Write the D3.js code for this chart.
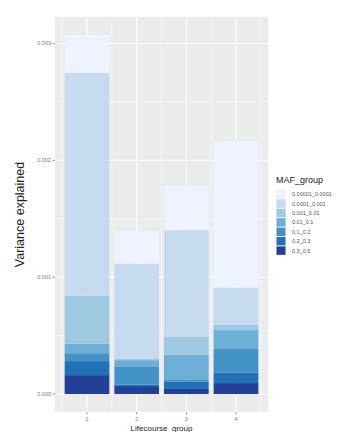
<!DOCTYPE html>
<html>
<head>
<meta charset="utf-8">
<script src="https://cdn.jsdelivr.net/npm/d3@7/dist/d3.min.js"></script>
<style>
  html, body { margin: 0; padding: 0; background: #fff; }
  svg { display: block; font-family: "Liberation Sans", Arial, sans-serif; }
</style>
</head>
<body>
<svg id="chart" width="337" height="432"></svg>
<script>
// ---- data ----
const groups = [1, 2, 3, 4];
// MAF groups, first = top of stack / top of legend (lightest)
const mafGroups = ["0.00001_0.0001", "0.0001_0.001", "0.001_0.01", "0.01_0.1", "0.1_0.2", "0.2_0.3", "0.3_0.5"];
const mafColors = ["#eff3ff", "#c6dbef", "#9ecae1", "#6baed6", "#4292c6", "#2171b5", "#21409a"];
// values per MAF group, for lifecourse groups 1..4
const v_g1 = [0.000325, 0.000276, 0.000379, 0.001254];
const v_g2 = [0.001906, 0.000815, 0.000912, 0.000319];
const v_g3 = [0.000410, 0.000010, 0.000156, 0.000045];
const v_g4 = [0.000083, 0.000053, 0.000214, 0.000162];
const v_g5 = [0.000067, 0.000156, 0.000013, 0.000200];
const v_g6 = [0.000120, 0.000013, 0.000064, 0.000091];
const v_g7 = [0.000162, 0.000068, 0.000044, 0.000094];
const seriesValues = [v_g1, v_g2, v_g3, v_g4, v_g5, v_g6, v_g7];
const yTicks = [0, 0.001, 0.002, 0.003];
const yTickLabels = ["0.000", "0.001", "0.002", "0.003"];
const yTitle = "Variance explained";
const xTitle = "Lifecourse_group";
const legendTitle = "MAF_group";

// ---- layout ----
const svg = d3.select("#chart");
const panel = { left: 55, right: 268, top: 17, bottom: 412 };

const rows = groups.map((g, i) => {
  const r = { group: g };
  mafGroups.forEach((m, j) => r[m] = seriesValues[j][i]);
  return r;
});
// stack bottom-up: darkest first
const stackKeys = mafGroups.slice().reverse();
const stacked = d3.stack().keys(stackKeys)(rows);
const maxTotal = d3.max(rows, r => d3.sum(mafGroups, m => r[m]));

const barW = 0.9;
const xLo = 1 - barW / 2, xHi = 4 + barW / 2;
const xPad = (xHi - xLo) * 0.05;
const x = d3.scaleLinear().domain([xLo - xPad, xHi + xPad]).range([panel.left, panel.right]);
const yPad = maxTotal * 0.05;
const y = d3.scaleLinear().domain([-yPad, maxTotal + yPad]).range([panel.bottom, panel.top]);

// panel background
svg.append("rect")
  .attr("x", panel.left).attr("y", panel.top)
  .attr("width", panel.right - panel.left).attr("height", panel.bottom - panel.top)
  .attr("fill", "#ebebeb");

// grid
const grid = svg.append("g");
const yMinor = [0.0005, 0.0015, 0.0025];
const xMinor = [0.5, 1.5, 2.5, 3.5, 4.5];
yMinor.forEach(v => grid.append("line")
  .attr("x1", panel.left).attr("x2", panel.right)
  .attr("y1", y(v)).attr("y2", y(v))
  .attr("stroke", "#fff").attr("stroke-width", 0.5));
xMinor.forEach(v => grid.append("line")
  .attr("y1", panel.top).attr("y2", panel.bottom)
  .attr("x1", x(v)).attr("x2", x(v))
  .attr("stroke", "#fff").attr("stroke-width", 0.5));
yTicks.forEach(v => grid.append("line")
  .attr("x1", panel.left).attr("x2", panel.right)
  .attr("y1", y(v)).attr("y2", y(v))
  .attr("stroke", "#fff").attr("stroke-width", 1));
groups.forEach(v => grid.append("line")
  .attr("y1", panel.top).attr("y2", panel.bottom)
  .attr("x1", x(v)).attr("x2", x(v))
  .attr("stroke", "#fff").attr("stroke-width", 1));

// bars
const colorOf = d3.scaleOrdinal().domain(mafGroups).range(mafColors);
const bw = x(1 + barW) - x(1);
svg.append("g").selectAll("g").data(stacked).join("g")
  .attr("fill", d => colorOf(d.key))
  .selectAll("rect").data(d => d).join("rect")
  .attr("x", d => x(d.data.group) - bw / 2)
  .attr("width", bw)
  .attr("y", d => y(d[1]))
  .attr("height", d => y(d[0]) - y(d[1]));

// y axis
const yAxis = svg.append("g");
yTicks.forEach((v, i) => {
  yAxis.append("line").attr("x1", panel.left - 2.5).attr("x2", panel.left)
    .attr("y1", y(v)).attr("y2", y(v)).attr("stroke", "#555").attr("stroke-width", 0.6);
  yAxis.append("text").attr("x", panel.left - 4).attr("y", y(v)).attr("dy", "0.35em")
    .attr("text-anchor", "end").attr("font-size", 5.5).attr("fill", "#777")
    .text(yTickLabels[i]);
});
// x axis
const xAxis = svg.append("g");
groups.forEach(g => {
  xAxis.append("line").attr("x1", x(g)).attr("x2", x(g))
    .attr("y1", panel.bottom).attr("y2", panel.bottom + 2.5)
    .attr("stroke", "#555").attr("stroke-width", 0.6);
  xAxis.append("text").attr("x", x(g)).attr("y", panel.bottom + 9)
    .attr("text-anchor", "middle").attr("font-size", 5.5).attr("fill", "#777")
    .text(g);
});

// titles
svg.append("text")
  .attr("transform", `translate(24,${(panel.top + panel.bottom) / 2}) rotate(-90)`)
  .attr("text-anchor", "middle").attr("font-size", 12.5).attr("fill", "#222")
  .text(yTitle);
svg.append("text")
  .attr("x", (panel.left + panel.right) / 2).attr("y", 431)
  .attr("text-anchor", "middle").attr("font-size", 8).attr("fill", "#222")
  .text(xTitle);

// legend
const lg = svg.append("g").attr("transform", "translate(276,0)");
lg.append("text").attr("x", 0).attr("y", 183).attr("font-size", 9).attr("fill", "#222").text(legendTitle);
const keyH = 9.4, keyW = 10, key0 = 189.5;
mafGroups.forEach((m, i) => {
  lg.append("rect").attr("x", 0).attr("y", key0 + i * keyH)
    .attr("width", keyW).attr("height", keyH).attr("fill", "#f2f2f2");
  lg.append("rect").attr("x", 0.5).attr("y", key0 + i * keyH + 0.5)
    .attr("width", keyW - 1).attr("height", keyH - 1).attr("fill", colorOf(m));
  lg.append("text").attr("x", keyW + 6).attr("y", key0 + i * keyH + keyH / 2).attr("dy", "0.35em")
    .attr("font-size", 5.5).attr("fill", "#555").text(m);
});
</script>
</body>
</html>
